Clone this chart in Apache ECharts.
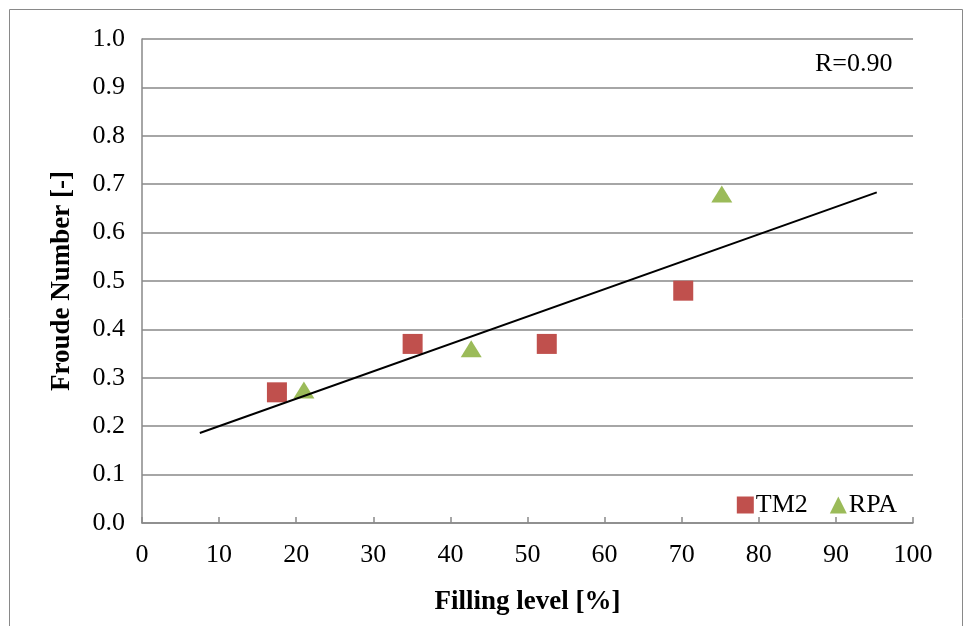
<!DOCTYPE html>
<html>
<head>
<meta charset="utf-8">
<script src="https://cdn.jsdelivr.net/npm/echarts@6/dist/echarts.min.js"></script>
<style>
  html, body { margin: 0; padding: 0; background: #fff; }
  #chart { width: 964px; height: 626px; }
</style>
</head>
<body>
<div id="chart"></div>
<script>
// Filling level [%] vs Froude number for two test series
const tm2Filling = [17.5, 35.1, 52.5, 70.2];
const tm2Froude = [0.27, 0.37, 0.37, 0.48];
const rpaFilling = [21.0, 42.7, 75.2];
const rpaFroude = [0.275, 0.36, 0.68];
// Linear fit endpoints
const fitFilling = [7.5, 95.3];
const fitFroude = [0.186, 0.683];
const xTicks = [0, 10, 20, 30, 40, 50, 60, 70, 80, 90, 100];
const yTicks = [0.0, 0.1, 0.2, 0.3, 0.4, 0.5, 0.6, 0.7, 0.8, 0.9, 1.0];
const corrLabel = 'R=0.90';

const FONT = '"Liberation Serif", "Times New Roman", serif';
const pairs = (xs, ys) => xs.map((x, i) => [x, ys[i]]);

const chart = echarts.init(document.getElementById('chart'));
chart.setOption({
  animation: false,
  backgroundColor: '#fff',
  textStyle: { fontFamily: FONT },
  grid: { left: 142, right: 51, top: 39, bottom: 103 },
  graphic: [
    {
      type: 'rect',
      shape: { x: 9.5, y: 9.5, width: 953, height: 700 },
      style: { fill: 'none', stroke: '#898989', lineWidth: 1 },
      silent: true
    },
    {
      type: 'text',
      left: 815, top: 51,
      style: { text: corrLabel, font: '26px ' + FONT, fill: '#000' }
    }
  ],
  legend: {
    right: 62, top: 487,
    itemWidth: 17, itemHeight: 17, itemGap: 22,
    textStyle: { fontFamily: FONT, fontSize: 26, color: '#000', padding: [0, 0, 0, -3] },
    data: [
      { name: 'TM2', icon: 'rect' },
      { name: 'RPA', icon: 'triangle' }
    ]
  },
  xAxis: {
    type: 'value', min: xTicks[0], max: xTicks[xTicks.length - 1], interval: 10,
    name: 'Filling level [%]', nameLocation: 'middle', nameGap: 66,
    nameTextStyle: { fontFamily: FONT, fontSize: 27, fontWeight: 'bold', color: '#000' },
    axisLine: { show: true, lineStyle: { color: '#898989', width: 1.5 } },
    axisTick: { show: true, inside: true, length: 6, lineStyle: { color: '#898989', width: 1.5 } },
    axisLabel: { fontFamily: FONT, fontSize: 26, color: '#000', margin: 19 },
    splitLine: { show: false }
  },
  yAxis: {
    type: 'value', min: yTicks[0], max: yTicks[yTicks.length - 1], interval: 0.1,
    name: 'Froude Number [-]', nameLocation: 'middle', nameGap: 66, nameRotate: 90,
    nameTextStyle: { fontFamily: FONT, fontSize: 27, fontWeight: 'bold', color: '#000' },
    axisLine: { show: true, lineStyle: { color: '#898989', width: 1.5 } },
    axisTick: { show: false },
    axisLabel: { fontFamily: FONT, fontSize: 26, color: '#000', margin: 17,
      formatter: v => v.toFixed(1) },
    splitLine: { show: true, lineStyle: { color: '#898989', width: 1.5 } }
  },
  series: [
    {
      name: 'fit', type: 'line', data: pairs(fitFilling, fitFroude),
      showSymbol: false, symbol: 'none', silent: true,
      lineStyle: { color: '#000', width: 2 }, z: 3
    },
    {
      name: 'TM2', type: 'scatter', data: pairs(tm2Filling, tm2Froude),
      symbol: 'rect', symbolSize: 20,
      itemStyle: { color: '#C0504D', opacity: 1 }, z: 2
    },
    {
      name: 'RPA', type: 'scatter', data: pairs(rpaFilling, rpaFroude),
      symbol: 'triangle', symbolSize: [21, 17],
      itemStyle: { color: '#9BBB59', opacity: 1 }, z: 2
    }
  ]
});
</script>
</body>
</html>
